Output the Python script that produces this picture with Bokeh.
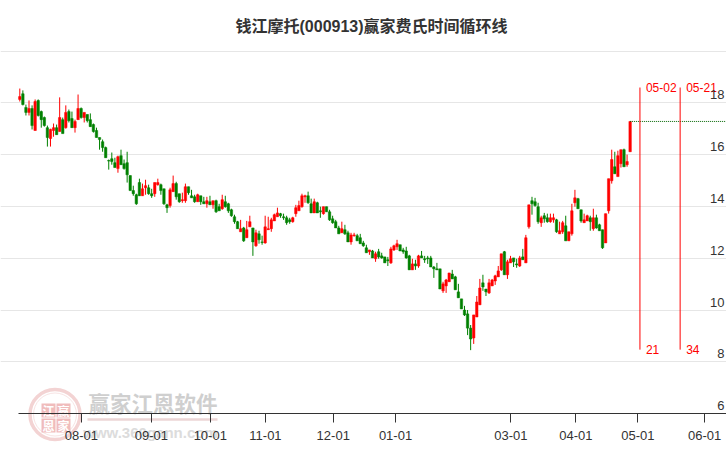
from bokeh.plotting import figure
from bokeh.models import (ColumnDataSource, LinearAxis, FixedTicker, Grid, Title)
from bokeh.core.properties import value
from bokeh.embed import file_html
from bokeh.resources import INLINE

TITLE = "钱江摩托(000913)赢家费氏时间循环线"
opens = [18.13,18.35,17.82,17.63,17.78,16.93,18.09,17.66,17.43,17.04,
16.62,16.93,17.04,16.89,17.35,17.04,17.66,17.39,17.04,17.35,
17.78,17.43,17.55,17.35,17.16,16.93,16.66,16.50,16.27,15.77,
15.84,15.69,15.46,15.96,15.65,15.69,15.19,14.61,14.45,14.92,
14.41,14.72,14.72,14.49,14.49,14.84,14.84,14.68,14.06,14.03,
14.57,14.88,14.49,14.22,14.22,14.76,14.41,14.37,14.18,14.41,
14.18,14.10,14.18,14.06,14.22,13.99,13.91,14.18,14.10,13.87,
13.60,13.41,13.02,13.17,12.79,13.21,13.17,12.48,12.94,12.63,
12.59,13.10,13.14,13.44,13.60,13.72,13.60,13.56,13.48,13.41,
13.72,13.83,13.99,14.37,14.41,14.10,13.75,14.14,13.83,13.72,
13.99,13.79,13.52,13.41,13.17,12.98,13.10,12.98,12.63,12.87,
12.87,12.79,12.59,12.40,12.25,12.28,11.98,12.25,12.09,12.05,
11.94,11.82,12.32,12.44,12.52,12.32,12.28,12.09,11.55,11.78,
11.70,12.09,11.98,12.01,12.01,11.66,11.59,11.59,10.74,10.93,
11.09,11.39,11.28,10.70,10.43,10.00,9.85,9.30,8.92,9.73,
10.20,11.05,10.81,10.66,10.93,11.12,11.28,11.55,12.25,11.36,
11.82,12.01,11.78,11.70,12.05,11.82,13.21,14.22,14.18,13.99,
13.37,13.64,13.56,13.41,13.48,13.48,12.94,13.02,13.25,12.67,
12.94,14.14,14.30,13.87,13.37,13.44,13.56,13.14,13.56,13.29,
13.10,12.59,13.83,14.99,15.53,15.15,15.65,16.19,15.61,16.11]
highs = [18.55,18.48,17.93,18.09,17.90,18.13,18.13,17.70,17.47,17.12,
17.00,17.20,17.16,18.21,17.43,17.90,17.74,17.66,17.35,18.32,
17.82,17.63,17.55,17.59,17.20,17.04,16.66,16.58,16.31,15.81,
16.08,15.88,15.96,16.19,15.81,16.11,15.19,14.80,14.49,15.07,
14.88,15.03,14.84,14.68,14.92,15.07,14.88,14.68,14.10,14.72,
15.19,14.95,14.49,14.53,14.88,14.76,14.64,14.45,14.49,14.41,
14.37,14.37,14.41,14.22,14.26,14.10,14.45,14.41,14.14,13.91,
13.68,13.44,13.48,13.21,13.44,13.64,13.17,13.10,13.06,12.87,
13.64,13.60,13.56,13.72,13.95,13.75,13.72,13.64,13.56,13.60,
14.06,14.22,14.49,14.45,14.57,14.30,14.30,14.18,13.99,13.99,
13.99,13.87,13.64,13.48,13.25,13.41,13.29,13.06,12.98,12.98,
12.94,12.94,12.67,12.52,12.32,12.32,12.25,12.36,12.21,12.05,
12.05,12.44,12.52,12.71,12.52,12.40,12.44,12.13,11.98,11.94,
12.13,12.28,12.09,12.09,12.09,11.70,11.82,11.59,11.09,11.20,
11.43,11.55,11.32,11.01,10.43,10.16,10.00,9.42,9.81,10.54,
11.20,11.36,10.81,11.20,11.20,11.36,11.70,12.17,12.28,11.94,
12.09,12.01,11.98,12.09,12.36,12.90,14.06,14.37,14.33,14.14,
13.64,13.75,13.72,13.72,13.72,13.52,13.41,13.44,13.64,13.02,
14.10,14.64,14.33,13.87,13.72,13.68,13.64,13.91,13.68,13.33,
13.10,13.72,15.07,16.19,16.11,16.15,16.19,16.23,16.00,17.28]
lows = [18.05,17.90,17.51,17.51,16.97,16.93,17.47,17.04,17.08,16.31,
16.31,16.69,16.77,16.89,16.81,17.00,17.24,17.04,16.85,17.35,
17.39,17.24,17.24,17.08,16.85,16.66,16.19,16.11,15.88,15.42,
15.61,15.50,15.30,15.61,15.42,14.92,14.61,14.41,14.06,14.41,
14.41,14.45,14.45,14.33,14.37,14.80,14.45,14.06,13.75,13.95,
14.57,14.26,14.14,14.14,14.14,14.45,14.33,14.14,14.18,14.06,
14.10,13.95,14.06,13.91,13.75,13.83,13.87,13.95,13.75,13.60,
13.33,13.14,13.02,12.63,12.79,13.21,12.09,12.44,12.56,12.52,
12.56,13.10,13.02,13.44,13.60,13.56,13.48,13.29,13.33,13.37,
13.60,13.83,13.95,14.14,14.10,13.75,13.75,13.75,13.56,13.68,
13.79,13.44,13.33,13.17,12.94,12.98,12.90,12.63,12.52,12.83,
12.67,12.56,12.44,12.21,12.13,12.01,11.86,11.98,11.98,11.82,
11.70,11.78,12.28,12.32,12.28,12.17,11.98,11.55,11.55,11.55,
11.63,12.01,11.82,11.78,11.66,11.24,11.55,10.81,10.66,10.66,
11.09,11.20,10.78,10.47,10.04,9.77,9.03,8.45,8.69,9.73,
10.20,10.74,10.54,10.62,10.93,10.97,11.28,11.51,11.36,11.20,
11.82,11.66,11.63,11.66,11.94,11.82,13.14,13.68,13.99,13.33,
13.21,13.37,13.37,13.37,13.37,12.98,12.94,12.94,12.67,12.67,
12.87,13.99,13.91,13.37,13.37,13.44,13.06,13.06,13.14,13.06,
12.36,12.59,13.72,14.88,15.26,15.15,15.50,15.53,15.53,16.11]
closes = [18.24,17.93,17.63,17.78,17.12,18.05,17.51,17.35,17.12,16.66,
16.97,17.04,16.77,17.43,16.81,17.63,17.31,17.04,17.28,17.78,
17.43,17.63,17.31,17.08,16.89,16.66,16.58,16.27,15.88,15.75,
15.73,15.50,15.92,15.61,15.46,15.22,14.61,14.49,14.10,14.41,
14.68,14.80,14.49,14.41,14.92,14.92,14.61,14.10,13.95,14.64,
14.88,14.37,14.18,14.26,14.76,14.53,14.33,14.18,14.45,14.18,
14.10,14.22,14.06,14.22,13.79,13.83,14.26,13.99,13.83,13.64,
13.41,13.14,13.14,12.67,13.10,13.41,12.63,12.98,12.71,12.61,
13.21,13.14,13.48,13.68,13.75,13.64,13.56,13.37,13.41,13.56,
13.95,14.03,14.41,14.41,14.14,13.75,14.18,13.75,13.79,13.99,
13.79,13.48,13.37,13.17,12.94,13.14,12.94,12.63,12.90,12.90,
12.67,12.56,12.48,12.21,12.32,12.01,12.17,12.05,12.01,11.82,
11.90,12.36,12.48,12.56,12.28,12.25,12.01,11.55,11.78,11.70,
12.09,12.01,11.94,11.98,11.66,11.59,11.55,10.81,11.01,11.16,
11.43,11.20,10.78,10.47,10.04,9.81,9.30,8.88,9.81,10.31,
10.85,10.89,10.70,11.05,11.16,11.32,11.51,12.17,11.36,11.86,
11.98,11.86,11.74,12.01,11.94,12.79,14.06,14.10,14.03,13.41,
13.56,13.52,13.41,13.56,13.56,13.02,13.06,13.37,12.67,13.02,
13.83,14.33,13.91,13.44,13.48,13.64,13.41,13.56,13.17,13.06,
12.40,13.72,15.07,15.81,15.26,15.96,16.19,15.53,15.73,17.28]

x_tick_pos = [20.1, 42.9, 62.1, 80.1, 102.2, 122.5, 160.1, 181.3, 201.5, 223.3]
x_tick_labels = ["08-01", "09-01", "10-01", "11-01", "12-01", "01-01", "03-01", "04-01", "05-01", "06-01"]
y_ticks = [6, 8, 10, 12, 14, 16, 18]
y_tick_labels = ["6", "8", "10", "12", "14", "16", "18"]
grid_levels = [8, 10, 12, 14, 16, 18, 20]
cycle_pos = [202.2, 215.3]
cycle_dates = ["05-02", "05-21"]
cycle_counts = ["21", "34"]
cycle_top = 18.59
cycle_bottom = 8.47
last_price = 17.28

LATIN = "Liberation Sans"
CJK = "Liberation Sans, Noto Sans CJK SC"
INK = "#333333"
RED = "#ff0000"
GREEN = "#008000"

X0, DX = 19.3, 3.067          # pixel position of first candle, pixels per candle
Y18, DY = 102.3, 25.9         # pixel position of level 18, pixels per price unit
W, H, TOP = 726, 450, 44


def px_x(px):
    return (px - X0) / DX


def px_y(px):
    return 18 - (px - Y18) / DY


p = figure(width=W, height=H, output_backend="svg", toolbar_location=None,
           x_range=(px_x(0), px_x(W)), y_range=(px_y(H), px_y(TOP)),
           x_axis_location=None, y_axis_location=None,
           min_border_left=0, min_border_right=0, min_border_bottom=0, min_border_top=TOP,
           outline_line_color=None, background_fill_color="white", border_fill_color="white")
p.grid.visible = False

p.title = Title(text=TITLE, align="left", offset=235, text_font=CJK, text_font_size="16px",
                text_font_style="bold", text_color=INK, standoff=19)

# horizontal grid
grid = Grid(dimension=1, ticker=FixedTicker(ticks=grid_levels), bounds=(px_x(18), px_x(W)),
            grid_line_color="#e6e6e6", grid_line_width=1)
p.add_layout(grid)

# watermark
p.scatter([px_x(54.5)], [px_y(414)], size=50, marker="circle", fill_color=None,
          line_color="#f3d3d3", line_width=3.5)
p.scatter([px_x(54.5)], [px_y(414)], size=43, marker="circle", fill_color=None,
          line_color="#f8e4e4", line_width=1)
for cx, cy, ch in [(48, 410, "江"), (63, 410, "赢"), (48, 425, "恩"), (63, 425, "家")]:
    p.rect([px_x(cx)], [px_y(cy)], width=14 / DX, height=14 / DY, fill_color="#f0bcbc",
           line_color=None)
    p.text([px_x(cx)], [px_y(cy)], text=[ch], text_font=value("Noto Sans CJK SC"),
           text_font_size="12px", text_color="white", text_align="center",
           text_baseline="middle", text_font_style="bold")
p.text([px_x(152.5)], [px_y(402)], text=["赢家江恩软件"], text_font=value("Noto Sans CJK SC"),
       text_font_size="21.5px", text_color="#cfcfcf", text_align="center",
       text_baseline="middle", text_font_style="bold")
p.rect([px_x(152)], [px_y(419)], width=130 / DX, height=2.5 / DY, fill_color="#ecd6d6",
       line_color=None)
p.text([px_x(150)], [px_y(432)], text=["www.360gann.com"], text_font=value(LATIN),
       text_font_size="15px", text_color="#dcdcdc", text_align="center",
       text_baseline="middle", text_font_style="bold")

# candles
idx = list(range(len(opens)))
colors = [RED if c >= o else GREEN for o, c in zip(opens, closes)]
src = ColumnDataSource(dict(x=idx, o=opens, h=highs, l=lows, c=closes,
                            top=[max(a, b) for a, b in zip(opens, closes)],
                            bottom=[min(a, b) for a, b in zip(opens, closes)],
                            color=colors))
p.segment(x0="x", x1="x", y0="l", y1="h", color="color", line_width=1, source=src)
p.vbar(x="x", width=0.8, top="top", bottom="bottom", fill_color="color", line_color="color",
       line_width=0.5, source=src)

# last price line
p.segment(x0=[len(opens) - 1], x1=[px_x(W)], y0=[last_price], y1=[last_price],
          line_color="#006400", line_width=1, line_dash="1 1")

# time cycle lines
p.segment(x0=cycle_pos, x1=cycle_pos, y0=[cycle_bottom] * 2, y1=[cycle_top] * 2,
          line_color=RED, line_width=1)
p.text(x=cycle_pos, y=[cycle_top] * 2, text=cycle_dates, text_color=RED, text_font=value(LATIN),
       text_font_size="12px", text_baseline="middle", x_offset=6)
p.text(x=cycle_pos, y=[cycle_bottom] * 2, text=cycle_counts, text_color=RED,
       text_font=value(LATIN), text_font_size="12px", text_baseline="middle", x_offset=6)

# x axis
xaxis = LinearAxis(fixed_location=6, bounds=(px_x(18), px_x(W)),
                   ticker=FixedTicker(ticks=x_tick_pos),
                   major_label_overrides=dict(zip(x_tick_pos, x_tick_labels)))
xaxis.axis_line_color = INK
xaxis.axis_line_width = 1
xaxis.major_tick_line_color = INK
xaxis.major_tick_in = 0
xaxis.major_tick_out = 9
xaxis.minor_tick_line_color = None
xaxis.major_label_standoff = 8
xaxis.major_label_text_font = LATIN
xaxis.major_label_text_font_size = "13px"
xaxis.major_label_text_color = INK
p.add_layout(xaxis, "below")

# price labels sit just above their grid lines, inside the right edge
p.text(x=[px_x(724)] * len(y_ticks), y=y_ticks, text=y_tick_labels, text_color=INK,
       text_font=value(LATIN), text_font_size="13px", text_align="right",
       text_baseline="middle", y_offset=-8)

open("out.html", "w").write(file_html(p, INLINE))
